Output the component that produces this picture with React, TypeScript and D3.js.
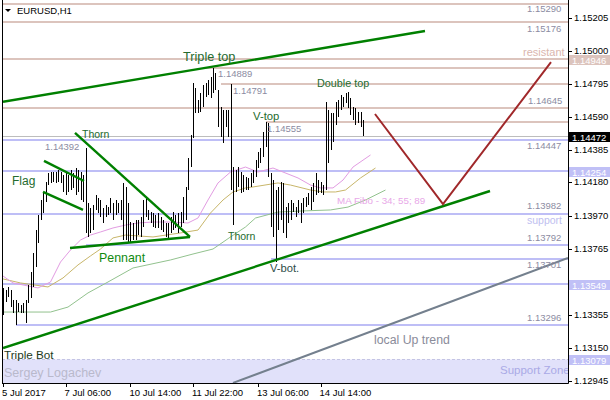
import React from 'react';
import * as d3 from 'd3';

// ---- price bars (H1) ----
const barHigh = [
  1.13524, 1.13511, 1.1353, 1.13511, 1.13449, 1.13449, 1.1343, 1.13418, 1.1343, 1.13449,
  1.13542, 1.13623, 1.13741, 1.13884, 1.13978, 1.14071, 1.14121, 1.14183, 1.14239, 1.14245,
  1.14245, 1.14245, 1.14258, 1.14245, 1.14226, 1.14239, 1.14226, 1.14258, 1.14239, 1.1427,
  1.14258, 1.14245, 1.14226, 1.14392, 1.14052, 1.14021, 1.1404, 1.14102, 1.14083, 1.14071,
  1.14021, 1.1404, 1.14027, 1.14083, 1.14052, 1.14071, 1.14052, 1.14071, 1.14177, 1.14152,
  1.14052, 1.13934, 1.13928, 1.13947, 1.13947, 1.13965, 1.14071, 1.1409, 1.14009, 1.13996,
  1.1399, 1.13978, 1.1399, 1.13965, 1.13947, 1.13928, 1.13928, 1.13965, 1.13996, 1.13978,
  1.1399, 1.13996, 1.1409, 1.14152, 1.14332, 1.14475, 1.14799, 1.14768, 1.14693, 1.14737,
  1.14786, 1.14799, 1.14817, 1.14836, 1.14889, 1.14861, 1.14755, 1.14649, 1.14631, 1.14631,
  1.14631, 1.14791, 1.14276, 1.14258, 1.14276, 1.14245, 1.14226, 1.14214, 1.14208, 1.14239,
  1.14258, 1.1432, 1.1437, 1.14394, 1.14494, 1.14555, 1.1455, 1.14239, 1.14195, 1.14133,
  1.14152, 1.14183, 1.14177, 1.14027, 1.14052, 1.14071, 1.14052, 1.14027, 1.14071, 1.14052,
  1.14083, 1.1409, 1.14115, 1.14152, 1.14177, 1.14239, 1.14195, 1.14183, 1.14164, 1.14681,
  1.14631, 1.14612, 1.14612, 1.14681, 1.14693, 1.14724, 1.14712, 1.14737, 1.14743, 1.14705,
  1.14649, 1.14643, 1.14618, 1.14618, 1.14569,
];
const barLow = [
  1.13356, 1.13437, 1.13468, 1.13405, 1.13368, 1.13293, 1.13374, 1.13368, 1.13368, 1.13306,
  1.1343, 1.13461, 1.1353, 1.13654, 1.13804, 1.13947, 1.1399, 1.14059, 1.14164, 1.14177,
  1.14183, 1.14177, 1.14183, 1.14177, 1.14121, 1.14102, 1.14121, 1.14133, 1.14146, 1.14102,
  1.14121, 1.14071, 1.14059, 1.13866, 1.13841, 1.13866, 1.13884, 1.14009, 1.1399, 1.13965,
  1.13928, 1.13965, 1.13978, 1.1399, 1.13947, 1.13978, 1.1399, 1.13947, 1.13822, 1.13822,
  1.1381, 1.1381, 1.13822, 1.13822, 1.13853, 1.13841, 1.13903, 1.13965, 1.13947, 1.13928,
  1.13903, 1.13897, 1.13897, 1.13884, 1.13872, 1.13841, 1.13822, 1.13866, 1.13884, 1.13897,
  1.13866, 1.13903, 1.13928, 1.13947, 1.14133, 1.14276, 1.14457, 1.14612, 1.14612, 1.14618,
  1.14649, 1.14712, 1.14724, 1.14705, 1.14737, 1.14755, 1.14525, 1.14463, 1.14426, 1.14525,
  1.14463, 1.14133, 1.13915, 1.14121, 1.14152, 1.14115, 1.14121, 1.14133, 1.14133, 1.14152,
  1.14177, 1.14214, 1.1427, 1.14301, 1.14338, 1.14401, 1.14214, 1.13903, 1.13841, 1.13685,
  1.13884, 1.13947, 1.13866, 1.13835, 1.13928, 1.13947, 1.13996, 1.13965, 1.1399, 1.13928,
  1.1399, 1.14027, 1.1404, 1.14009, 1.14059, 1.14102, 1.14115, 1.14115, 1.14102, 1.14133,
  1.14301, 1.14382, 1.14432, 1.14537, 1.14587, 1.14631, 1.14649, 1.14674, 1.14643, 1.146,
  1.14569, 1.14537, 1.1455, 1.14525, 1.14472,
];

// ---- axes ----
const xTickIndex = [0, 25, 51, 76, 102, 127];
const xTickLabels = ['5 Jul 2017', '7 Jul 06:00', '10 Jul 14:00', '11 Jul 22:00', '13 Jul 06:00', '14 Jul 14:00'];
const yTicks = [1.15205, 1.15, 1.14795, 1.1459, 1.14385, 1.1418, 1.1397, 1.13765, 1.13355, 1.1315, 1.12945];

// ---- moving averages (MA Fibo 34; 55; 89), [bar index, price] ----
const ma34Idx = [0, 4, 14, 19, 23, 27, 31, 35, 39, 44, 49, 54, 60, 67, 74, 78, 82, 86, 91, 97, 102, 108, 112, 118, 123, 127, 132, 136, 140, 147];
const ma34Val = [1.13598, 1.13555, 1.13524, 1.13561, 1.13685, 1.1376, 1.13822, 1.13853, 1.13872, 1.13897, 1.13915, 1.13928, 1.13934, 1.13934, 1.13928, 1.13959, 1.14071, 1.14177, 1.14245, 1.14276, 1.14245, 1.1427, 1.14245, 1.14208, 1.14164, 1.14146, 1.14146, 1.14195, 1.14276, 1.14351];
const ma55Idx = [0, 7, 18, 24, 30, 35, 39, 44, 49, 60, 71, 78, 83, 88, 92, 97, 100, 110, 115, 123, 128, 133, 137, 143, 149];
const ma55Val = [1.1358, 1.13555, 1.1353, 1.13586, 1.13667, 1.13723, 1.13766, 1.13835, 1.13853, 1.13841, 1.13866, 1.13884, 1.1399, 1.14071, 1.14121, 1.14146, 1.14152, 1.14177, 1.14164, 1.14133, 1.14121, 1.14121, 1.14133, 1.14208, 1.1427];
const ma89Idx = [0, 19, 26, 34, 42, 52, 67, 76, 84, 91, 97, 101, 110, 120, 131, 138, 145, 153];
const ma89Val = [1.13374, 1.13374, 1.13405, 1.13493, 1.13561, 1.13648, 1.13698, 1.13735, 1.13766, 1.13841, 1.13903, 1.13959, 1.13996, 1.14003, 1.14009, 1.14027, 1.14071, 1.14133];

// ---- drawn objects, [bar index, price] ----
const channelUpper: [number, number][] = [[0, 1.14682], [168.8, 1.15122]];
const channelLower: [number, number][] = [[0, 1.1315], [194.8, 1.14127]];
const flagUpper: [number, number][] = [[16.4, 1.14314], [32.4, 1.14189]];
const flagLower: [number, number][] = [[16, 1.14121], [32, 1.14009]];
const thornLine: [number, number][] = [[28.8, 1.14488], [74.8, 1.13841]];
const pennantLine: [number, number][] = [[26.8, 1.13772], [74.8, 1.13841]];
const localTrend: [number, number][] = [[92, 1.12933], [226, 1.1371]];
const forecastV: [number, number][] = [[148.8, 1.14606], [176, 1.14046], [219.2, 1.14929]];

const resistLevels = [1.1529, 1.15176, 1.14946, 1.14889, 1.14791, 1.14645, 1.14555];
const resistFrom = [0, 0, 0, 81, 87, 0, 105];
const supportLevels = [1.14447, 1.14254, 1.13982, 1.13792, 1.13701, 1.13549, 1.13296];
const supportFrom = [0, 0, 0, 33, 107, 0, 5];
const currentPrice = 1.14472;
const zoneTop = 1.13079;

const priceLabels = ['1.15290', '1.15176', '1.14889', '1.14791', '1.14645', '1.14555', '1.14447', '1.14392', '1.13982', '1.13792', '1.13701', '1.13296'];
const priceLabelAt = [1.1529, 1.15176, 1.14889, 1.14791, 1.14645, 1.14555, 1.14447, 1.14392, 1.13982, 1.13792, 1.13701, 1.13296];
const priceLabelIdx = [209.6, 209.6, 86, 92, 210, 105.6, 209.6, 16.8, 209.6, 209.6, 209.6, 209.6];
const priceLabelDy = [7.5, 10, 9, 9.5, -4, 9.5, 9, 2, -5.5, -3.5, 9, -4];

const patternNames = ['Triple top', 'Thorn', 'Flag', 'Pennant', 'Thorn', 'V-top', 'V-bot.', 'Double top', 'Triple Bot'];
const patternIdx = [72, 31.6, 3.6, 38.4, 90, 100, 106.8, 125.6, 0.4];
const patternPrice = [1.14936, 1.14457, 1.14167, 1.13688, 1.13822, 1.14569, 1.13623, 1.14774, 1.13082];
const patternSize = [12.7, 10.5, 12, 12.4, 10.5, 11.3, 11.2, 10.8, 11.7];

const tagValues = [1.14946, 1.14472, 1.14254, 1.13549, 1.13079];
const tagLabels = ['1.14946', '1.14472', '1.14254', '1.13549', '1.13079'];
const tagFill = ['#dcc4bd', '#000000', '#c0c0f6', '#c0c0f6', '#c0c0f6'];

export default function App() {
  const left = 2, right = 568, bottom = 383;
  const x = d3.scaleLinear().domain([0, 226]).range([3, 568]);
  const y = d3.scaleLinear().domain([1.12945, 1.15205]).range([381, 17.7]);
  const line = d3.line<[number, number]>().x(d => x(d[0])).y(d => y(d[1]));
  const pairs = (a: number[], b: number[]) => a.map((v, i) => [v, b[i]] as [number, number]);
  const font = 'Liberation Sans, Arial, sans-serif';
  const ry = (v: number) => Math.round(y(v));

  return (
    <svg width={610} height={400} style={{ position: 'absolute', left: 0, top: 0, background: '#fff' }} fontFamily={font}>
      <defs>
        <clipPath id="plot"><rect x={left + 1} y={0} width={right - left - 1} height={bottom} /></clipPath>
      </defs>
      <rect x={0} y={0} width={610} height={400} fill="#fff" />
      <g clipPath="url(#plot)">
        {/* support zone */}
        <rect x={left} y={y(zoneTop)} width={right - left} height={bottom - y(zoneTop)} fill="#e1e1fa" />
        <line x1={left} x2={right} y1={ry(zoneTop) + 0.5} y2={ry(zoneTop) + 0.5} stroke="#c4c4e4" strokeDasharray="3,2" />
        {/* horizontal levels */}
        {resistLevels.map((p, i) => (
          <line key={'r' + i} x1={x(resistFrom[i])} x2={right} y1={ry(p)} y2={ry(p)} stroke="#dcc4bd" strokeWidth={2} shapeRendering="crispEdges" />
        ))}
        {supportLevels.map((p, i) => (
          <line key={'s' + i} x1={x(supportFrom[i])} x2={right} y1={ry(p)} y2={ry(p)} stroke="#bebef6" strokeWidth={2} shapeRendering="crispEdges" />
        ))}
        <line x1={left} x2={right} y1={ry(currentPrice) + 0.5} y2={ry(currentPrice) + 0.5} stroke="#bdbdbd" strokeWidth={1} shapeRendering="crispEdges" />
        {/* moving averages */}
        <path d={line(pairs(ma89Idx, ma89Val)) || ''} fill="none" stroke="#92c28e" strokeWidth={1} />
        <path d={line(pairs(ma55Idx, ma55Val)) || ''} fill="none" stroke="#c8b66a" strokeWidth={1} />
        <path d={line(pairs(ma34Idx, ma34Val)) || ''} fill="none" stroke="#e29ce2" strokeWidth={1} />
        {/* bars */}
        {barHigh.map((h, i) => {
          const yt = Math.round(y(h));
          const yb = Math.round(y(barLow[i]));
          return <rect key={'b' + i} x={Math.round(x(i))} y={yt} width={1} height={Math.max(1, yb - yt)} fill="#000" shapeRendering="crispEdges" />;
        })}
        {/* trend objects */}
        <path d={line(localTrend) || ''} stroke="#74808e" strokeWidth={2} fill="none" />
        {[channelUpper, channelLower, flagUpper, flagLower, thornLine, pennantLine].map((l, i) => (
          <path key={'t' + i} d={line(l) || ''} stroke="#008000" strokeWidth={2.4} fill="none" />
        ))}
        <path d={line(forecastV) || ''} stroke="#a0282a" strokeWidth={2} fill="none" />
        {/* texts */}
        {priceLabels.map((t, i) => (
          <text key={'pl' + i} x={x(priceLabelIdx[i])} y={y(priceLabelAt[i]) + priceLabelDy[i]} fontSize={9.5} fill="#8c8ca2">{t}</text>
        ))}
        <text x={x(208)} y={y(1.14946) - 3.5} fontSize={11} fill="#dab6ae">resistant</text>
        <text x={x(209.6)} y={y(1.13982) + 10} fontSize={10.5} fill="#c0c0f0">support</text>
        <text x={x(198.8)} y={y(zoneTop) + 14.5} fontSize={11.5} fill="#aaaae6">Support Zone</text>
        <text x={x(0.4)} y={y(zoneTop) + 17.5} fontSize={12.5} fill="#b9b9cc">Sergey Logachev</text>
        <text x={x(148.4)} y={y(1.13175)} fontSize={12.3} fill="#8a8c9a">local Up trend</text>
        <text x={x(133.6)} y={y(1.14049)} fontSize={9.8} fill="#e8a8e8">MA Fibo - 34; 55; 89</text>
        {patternNames.map((t, i) => (
          <text key={'pn' + i} x={x(patternIdx[i])} y={y(patternPrice[i])} fontSize={patternSize[i]} fill={i === 3 ? '#108a10' : i === 6 ? '#2d4d48' : i === 8 ? '#1d3a1d' : '#246b2e'}>{t}</text>
        ))}
      </g>
      {/* header */}
      <path d="M5,9 L11,9 L8,12 Z" fill="#000" />
      <text x={17} y={14} fontSize={9.5} fill="#000">EURUSD,H1</text>
      {/* frame */}
      <line x1={left + 0.5} x2={left + 0.5} y1={0} y2={bottom + 0.5} stroke="#000" />
      <line x1={left} x2={right + 0.5} y1={bottom + 0.5} y2={bottom + 0.5} stroke="#000" />
      <line x1={right + 0.5} x2={right + 0.5} y1={0} y2={bottom + 0.5} stroke="#000" />
      {/* x axis */}
      {xTickIndex.map((t, i) => (
        <g key={'xt' + i}>
          <line x1={Math.round(x(t)) + 0.5} x2={Math.round(x(t)) + 0.5} y1={bottom} y2={bottom + 4} stroke="#000" />
          <text x={x(t) - 1} y={396} fontSize={9.5} fill="#000">{xTickLabels[i]}</text>
        </g>
      ))}
      {/* y axis */}
      {yTicks.map((t, i) => (
        <g key={'yt' + i}>
          <line x1={right} x2={right + 4} y1={ry(t) + 0.5} y2={ry(t) + 0.5} stroke="#000" />
          <text x={574} y={y(t) + 3} fontSize={9.5} fill="#000">{t.toFixed(5)}</text>
        </g>
      ))}
      {tagValues.map((t, i) => (
        <g key={'tag' + i}>
          <rect x={569} y={ry(t) - 4} width={41} height={10} fill={tagFill[i]} />
          <text x={572} y={ry(t) + 4.5} fontSize={9.5} fill="#fff">{tagLabels[i]}</text>
        </g>
      ))}
    </svg>
  );
}
